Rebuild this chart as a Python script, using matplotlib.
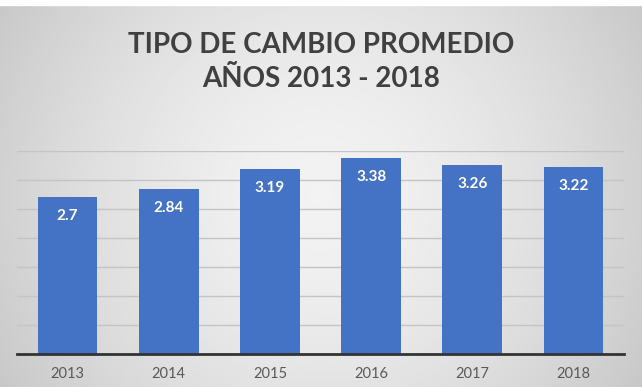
import numpy as np
import matplotlib
matplotlib.use("Agg")
import matplotlib.pyplot as plt

years = ["2013", "2014", "2015", "2016", "2017", "2018"]
rates = [2.7, 2.84, 3.19, 3.38, 3.26, 3.22]
title = "TIPO DE CAMBIO PROMEDIO\nAÑOS 2013 - 2018"

plt.rcParams['font.family'] = ['Lato', 'DejaVu Sans']

fig = plt.figure(figsize=(6.42, 3.87), dpi=100)

# background: soft radial gray gradient like the original slide
bg = fig.add_axes([0, 0, 1, 1], zorder=0)
xx, yy = np.meshgrid(np.linspace(-1, 1, 300), np.linspace(-1, 1, 200))
r = np.sqrt(xx ** 2 + (yy * 0.6) ** 2)
shade = 0.95 - 0.13 * np.clip(r, 0, 1.2) ** 1.6
bg.imshow(shade, cmap="gray", vmin=0, vmax=1, aspect="auto", extent=[0, 1, 0, 1])
bg.axhspan(0.988, 1.0, color="white")
bg.set_xlim(0, 1)
bg.set_ylim(0, 1)
bg.axis("off")

ax = fig.add_axes([0.0265, 0.0853, 0.9455, 0.5245], zorder=1)
ax.patch.set_alpha(0)
x = np.arange(len(years))
bars = ax.bar(x, rates, width=0.59, color="#4472C4", zorder=3)

ax.set_xlim(-0.5, len(years) - 0.5)
ax.set_ylim(0, 3.5)
ax.set_yticks(np.arange(0.5, 3.51, 0.5))
ax.yaxis.grid(True, color="#c4c4c4", linewidth=1, zorder=0)
ax.tick_params(axis="y", left=False, labelleft=False)
ax.tick_params(axis="x", bottom=False, labelsize=10.5, labelcolor="#595959", pad=6)
ax.set_xticks(x)
ax.set_xticklabels(years)
for s in ["top", "right", "left"]:
    ax.spines[s].set_visible(False)
ax.spines["bottom"].set_color("#333333")
ax.spines["bottom"].set_linewidth(2)
ax.spines["bottom"].set_zorder(4)

for b, v in zip(bars, rates):
    ax.annotate(f"{v:g}", (b.get_x() + b.get_width() / 2, v), xytext=(0, -19),
                textcoords="offset pixels",
                ha="center", va="center", color="white", fontsize=11,
                fontweight="bold", zorder=5)

fig.text(0.5, 0.84, title, ha="center", va="center", fontsize=20,
         fontweight="bold", color="#404040", linespacing=1.4)

fig.savefig("out.png", dpi=100)
